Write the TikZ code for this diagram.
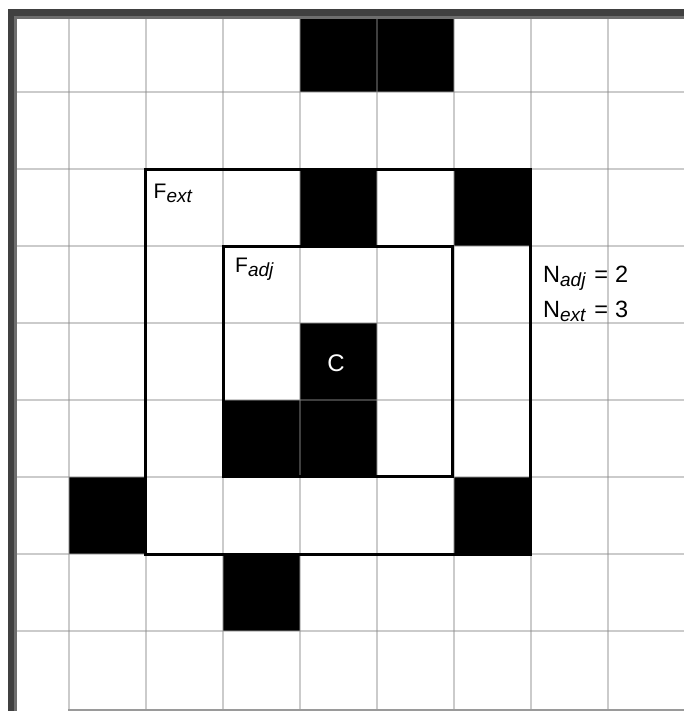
\documentclass[tikz,border=0pt]{standalone}
\usepackage{fontspec}
\setmainfont{Liberation Sans}
\definecolor{gridgray}{HTML}{8C8C8C}
\definecolor{darkborder}{HTML}{404040}
\definecolor{midborder}{HTML}{6E6E6E}
\definecolor{botborder}{HTML}{9A9A9A}
\newcommand{\sbx}[1]{\raisebox{-4pt}{\fontsize{19}{21}\selectfont\itshape #1}}
\begin{document}
\begin{tikzpicture}[x=1pt,y=-1pt,
  gridline/.style={draw=gridgray,draw opacity=0.45,line width=2pt},
  framebox/.style={draw=black,line width=3pt},
  flab/.style={inner sep=0pt,anchor=base west,font=\fontsize{21}{24}\selectfont},
  nlab/.style={inner sep=0pt,anchor=base west,font=\fontsize{23.5}{26}\selectfont}]
\useasboundingbox (0,0) rectangle (684,711);
\fill[white] (0,0) rectangle (684,711);
% black cells
\foreach \c/\r in {4/0,5/0,4/2,6/2,4/4,3/5,4/5,1/6,6/6,3/7}
  \fill[black] ({-8.5+77*\c},{15+77*\r}) rectangle ++(77,77);
% grid lines
\foreach \i in {1,...,8}
  \draw[gridline] ({-8.5+77*\i},15) -- ({-8.5+77*\i},711);
\foreach \j in {1,...,8}
  \draw[gridline] (14,{15+77*\j}) -- (684,{15+77*\j});
% frames
\draw[framebox] (145.5,169.5) rectangle (530.5,554);
\draw[framebox] (223.5,246.5) rectangle (452.5,476);
% borders
\fill[darkborder] (8,9) rectangle (684,16);
\fill[midborder] (14,16) rectangle (684,19);
\fill[darkborder] (8,9) rectangle (14,711);
\fill[midborder] (14,16) rectangle (17,711);
\fill[botborder] (68,709) rectangle (684,711);
% labels
\node[flab] (fext) at (153.5,199) {F\sbx{ext}};
\node[flab] (fadj) at (235,272) {F\sbx{adj}};
\node[nlab] (nadj) at (543,282) {N\sbx{adj}\hspace{0.38em}=\hspace{0.3em}2};
\node[nlab] (next) at (543,317) {N\sbx{ext}\hspace{0.38em}=\hspace{0.3em}3};
\node[inner sep=0pt,text=white,font=\fontsize{24}{27}\selectfont] (c) at (336,363) {C};
\end{tikzpicture}
\end{document}
